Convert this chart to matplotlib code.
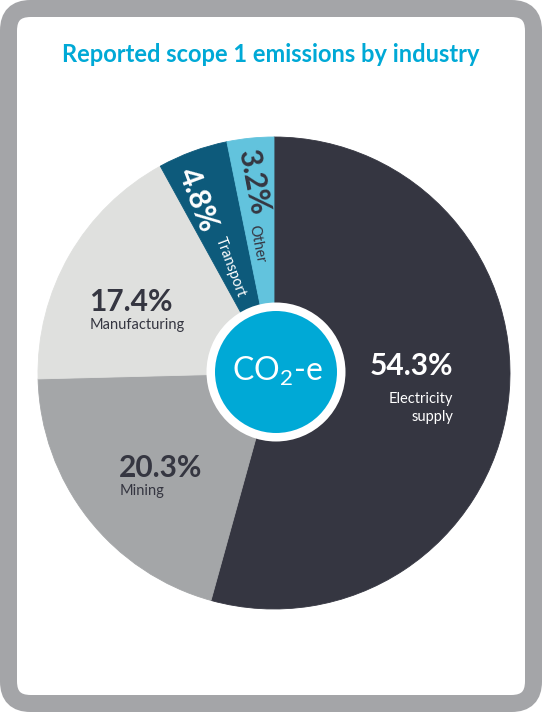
import numpy as np
import matplotlib.pyplot as plt
from matplotlib.patches import FancyBboxPatch, Circle

plt.rcParams['font.family'] = ['Lato', 'DejaVu Sans']

# data
industries = ['Electricity\nsupply', 'Mining', 'Manufacturing', 'Transport', 'Other']
shares = [54.3, 20.3, 17.4, 4.8, 3.2]
pct_labels = ['54.3%', '20.3%', '17.4%', '4.8%', '3.2%']
colors = ['#353641', '#a4a6a8', '#dfe0de', '#0d5a7b', '#62c3dd']
title = 'Reported scope 1 emissions by industry'

W, H = 542, 712
dark = '#353641'
cyan = '#00a9d6'

fig = plt.figure(figsize=(W / 100, H / 100), dpi=100)
fig.patch.set_facecolor('white')
ax = fig.add_axes([0, 0, 1, 1])


def py(y):
    # pixel row (top down) -> data y
    return H - y


cx, cy = 274, py(373)
R = 236
wedges, _ = ax.pie(shares, colors=colors, startangle=90, counterclock=False,
                   radius=R, center=(cx, cy), frame=True)
for w in wedges:
    w.set_edgecolor(w.get_facecolor())
    w.set_linewidth(0.6)
ax.set_xlim(0, W)
ax.set_ylim(0, H)
ax.set_aspect('equal')
ax.axis('off')

# rounded grey frame
frame = FancyBboxPatch((8.5, 8.5), W - 17, H - 17,
                       boxstyle='round,pad=0,rounding_size=22',
                       facecolor='none', edgecolor='#a4a5a8',
                       linewidth=17 * 72 / 100, zorder=0)
ax.add_patch(frame)

ax.text(W / 2, py(54), title, color=cyan, fontsize=17, fontweight='bold',
        ha='center', va='center')

# centre badge
ax.add_patch(Circle((276, py(372)), 69.5, facecolor='white', edgecolor='none', zorder=5))
ax.add_patch(Circle((276, py(372)), 61, facecolor=cyan, edgecolor='none', zorder=6))
ax.text(277, py(371), r'CO$_{\mathregular{2}}$-e', color='white', fontsize=23,
        ha='center', va='center', zorder=7)

# horizontal labels
pct_fs = 21.5
sub_fs = 10.5
ax.text(453, py(366), pct_labels[0], color='white', fontsize=pct_fs,
        fontweight='bold', ha='right', va='center')
ax.text(453, py(408), industries[0], color='white', fontsize=sub_fs,
        ha='right', va='center', linespacing=1.35)

ax.text(89, py(302), pct_labels[2], color=dark, fontsize=pct_fs,
        fontweight='bold', ha='left', va='center')
ax.text(90, py(325), industries[2], color=dark, fontsize=sub_fs,
        ha='left', va='center')

ax.text(119, py(468), pct_labels[1], color=dark, fontsize=pct_fs,
        fontweight='bold', ha='left', va='center')
ax.text(120, py(491), industries[1], color=dark, fontsize=sub_fs,
        ha='left', va='center')

# rotated labels in the thin slices
rot_t = -69.5
rot_o = -79
ax.text(198, py(200), pct_labels[3], color='white', fontsize=pct_fs,
        fontweight='bold', rotation=rot_t, ha='center', va='center',
        rotation_mode='anchor')
ax.text(230, py(267), industries[3], color='white', fontsize=sub_fs,
        rotation=rot_t, ha='center', va='center', rotation_mode='anchor')
ax.text(253, py(182), pct_labels[4], color=dark, fontsize=pct_fs,
        fontweight='bold', rotation=rot_o, ha='center', va='center',
        rotation_mode='anchor')
ax.text(257, py(244), industries[4], color=dark, fontsize=sub_fs,
        rotation=rot_o, ha='center', va='center', rotation_mode='anchor')

fig.savefig('out.png', dpi=100, facecolor='white')
